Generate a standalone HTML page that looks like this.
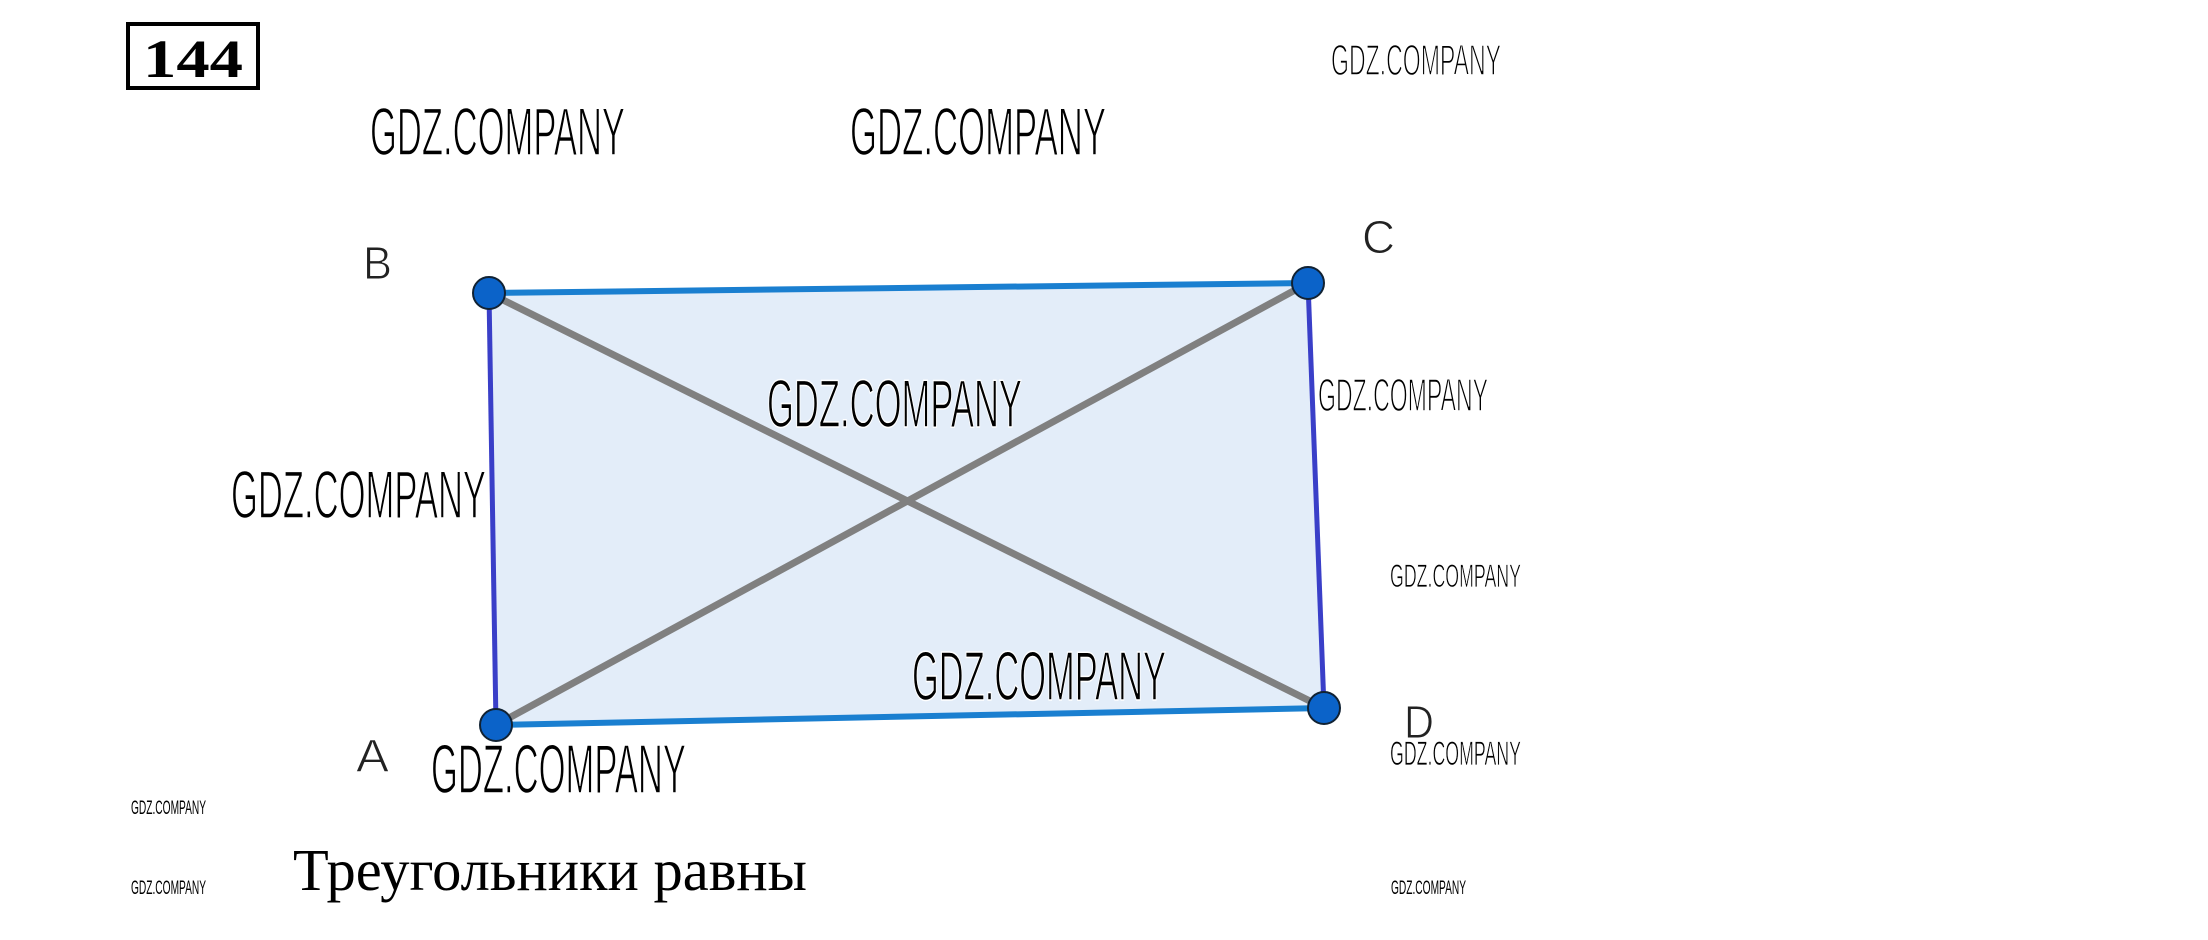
<!DOCTYPE html>
<html><head><meta charset="utf-8"><style>
html,body{margin:0;padding:0;background:#fff;width:2208px;height:940px;overflow:hidden}
</style></head><body>
<svg width="2208" height="940" viewBox="0 0 2208 940" xmlns="http://www.w3.org/2000/svg">
<rect x="0" y="0" width="2208" height="940" fill="#fff"/>
<rect x="128" y="24" width="130" height="64" fill="none" stroke="#000" stroke-width="4"/>
<text x="193" y="77" text-anchor="middle" font-family="Liberation Serif, serif" font-weight="bold" font-size="54" textLength="100" lengthAdjust="spacingAndGlyphs">144</text>

<polygon points="489,293 1308,283 1324,708 496,725" fill="#e3edf9"/>
<line x1="489" y1="293" x2="1308" y2="283" stroke="#1a7fd0" stroke-width="6"/>
<line x1="496" y1="725" x2="1324" y2="708" stroke="#1a7fd0" stroke-width="6"/>
<line x1="489" y1="293" x2="496" y2="725" stroke="#3a3fc8" stroke-width="5"/>
<line x1="1308" y1="283" x2="1324" y2="708" stroke="#3a3fc8" stroke-width="5"/>
<line x1="489" y1="293" x2="1324" y2="708" stroke="#808080" stroke-width="7"/>
<line x1="496" y1="725" x2="1308" y2="283" stroke="#808080" stroke-width="7"/>
<g fill="#0b63c9" stroke="#123" stroke-width="2">
<circle cx="489" cy="293" r="16"/><circle cx="1308" cy="283" r="16"/>
<circle cx="496" cy="725" r="16"/><circle cx="1324" cy="708" r="16"/>
</g>
<g font-family="Liberation Sans, sans-serif" font-size="46" fill="#222" stroke="#fff" stroke-width="1">
<text x="363" y="279" textLength="29" lengthAdjust="spacingAndGlyphs">B</text>
<text x="1362" y="253" textLength="33" lengthAdjust="spacingAndGlyphs">C</text>
<text x="356" y="772" textLength="33" lengthAdjust="spacingAndGlyphs">A</text>
<text x="1404" y="738" textLength="30" lengthAdjust="spacingAndGlyphs">D</text>
</g>

<g font-family="Liberation Sans Narrow, Liberation Sans, sans-serif" fill="#000" stroke="#fff" stroke-width="1.5">
<text x="370" y="155" font-size="68" textLength="255" lengthAdjust="spacingAndGlyphs">GDZ.COMPANY</text>
<text x="850" y="155" font-size="68" textLength="256" lengthAdjust="spacingAndGlyphs">GDZ.COMPANY</text>
<text x="1331" y="75" font-size="44" textLength="170" lengthAdjust="spacingAndGlyphs">GDZ.COMPANY</text>
<text x="767" y="427" font-size="68" textLength="255" lengthAdjust="spacingAndGlyphs">GDZ.COMPANY</text>
<text x="1318" y="411" font-size="46" textLength="170" lengthAdjust="spacingAndGlyphs">GDZ.COMPANY</text>
<text x="231" y="518" font-size="68" textLength="255" lengthAdjust="spacingAndGlyphs">GDZ.COMPANY</text>
<text x="1390" y="587" font-size="32" textLength="131" lengthAdjust="spacingAndGlyphs" stroke-width="0.8">GDZ.COMPANY</text>
<text x="912" y="700" font-size="70" textLength="254" lengthAdjust="spacingAndGlyphs">GDZ.COMPANY</text>
<text x="431" y="793" font-size="70" textLength="255" lengthAdjust="spacingAndGlyphs">GDZ.COMPANY</text>
<text x="1390" y="765" font-size="34" textLength="131" lengthAdjust="spacingAndGlyphs" stroke-width="0.8">GDZ.COMPANY</text>
<text x="131" y="814" font-size="19" textLength="75" lengthAdjust="spacingAndGlyphs" stroke-width="0">GDZ.COMPANY</text>
<text x="131" y="894" font-size="19" textLength="75" lengthAdjust="spacingAndGlyphs" stroke-width="0">GDZ.COMPANY</text>
<text x="1391" y="894" font-size="19" textLength="75" lengthAdjust="spacingAndGlyphs" stroke-width="0">GDZ.COMPANY</text>
</g>
<text x="293" y="890" font-family="Liberation Serif, serif" font-size="59" textLength="514" lengthAdjust="spacingAndGlyphs">Треугольники равны</text>
</svg>
</body></html>
